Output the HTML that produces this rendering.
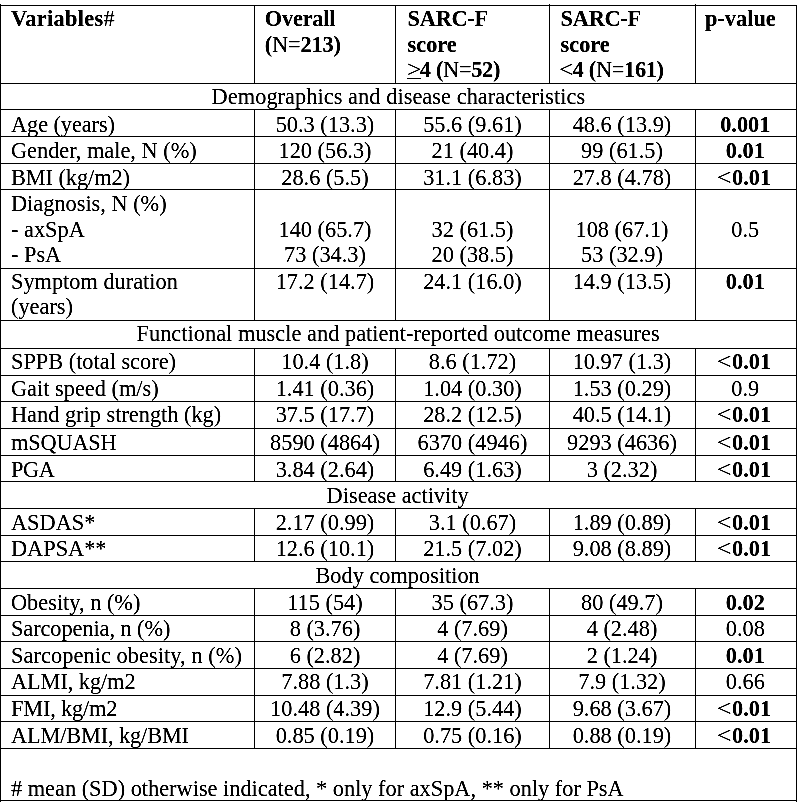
<!DOCTYPE html>
<html><head><meta charset="utf-8"><title>Table</title>
<style>
html,body{margin:0;padding:0;background:#fff;}
body{width:800px;height:806px;position:relative;overflow:hidden;}
#pg{position:absolute;left:0;top:0;width:800px;height:806px;background:#fff;font-family:"Liberation Serif",serif;font-size:22.33px;color:#000;filter:url(#bw);}
.l{position:absolute;background:#000;}
.t{position:absolute;white-space:pre;line-height:normal;}
.t.c{text-align:center;}
.b{font-weight:bold;}
.n{font-weight:normal;}
.lt{display:inline-block;transform:scaleX(1.18);transform-origin:100% 50%;}
.lt2{display:inline-block;transform:scaleX(1.15);transform-origin:0 50%;}
.u{text-decoration:underline;text-decoration-thickness:1px;text-underline-offset:1px;}
</style></head><body><svg width="0" height="0" style="position:absolute"><filter id="bw" x="0" y="0" width="100%" height="100%" color-interpolation-filters="sRGB"><feColorMatrix type="saturate" values="0"/><feComponentTransfer><feFuncR type="linear" slope="2" intercept="-0.7"/><feFuncG type="linear" slope="2" intercept="-0.7"/><feFuncB type="linear" slope="2" intercept="-0.7"/></feComponentTransfer></filter></svg>
<div id="pg">
<div class="l" style="left:0px;top:5px;width:797px;height:1px"></div>
<div class="l" style="left:0px;top:83px;width:797px;height:1px"></div>
<div class="l" style="left:0px;top:109px;width:797px;height:1px"></div>
<div class="l" style="left:0px;top:136px;width:797px;height:1px"></div>
<div class="l" style="left:0px;top:163px;width:797px;height:1px"></div>
<div class="l" style="left:0px;top:189px;width:797px;height:1px"></div>
<div class="l" style="left:0px;top:268px;width:797px;height:1px"></div>
<div class="l" style="left:0px;top:320px;width:797px;height:1px"></div>
<div class="l" style="left:0px;top:348px;width:797px;height:1px"></div>
<div class="l" style="left:0px;top:375px;width:797px;height:1px"></div>
<div class="l" style="left:0px;top:401px;width:797px;height:1px"></div>
<div class="l" style="left:0px;top:428px;width:797px;height:1px"></div>
<div class="l" style="left:0px;top:455px;width:797px;height:1px"></div>
<div class="l" style="left:0px;top:481px;width:797px;height:1px"></div>
<div class="l" style="left:0px;top:508px;width:797px;height:1px"></div>
<div class="l" style="left:0px;top:535px;width:797px;height:1px"></div>
<div class="l" style="left:0px;top:561px;width:797px;height:1px"></div>
<div class="l" style="left:0px;top:588px;width:797px;height:1px"></div>
<div class="l" style="left:0px;top:615px;width:797px;height:1px"></div>
<div class="l" style="left:0px;top:641px;width:797px;height:1px"></div>
<div class="l" style="left:0px;top:668px;width:797px;height:1px"></div>
<div class="l" style="left:0px;top:695px;width:797px;height:1px"></div>
<div class="l" style="left:0px;top:721px;width:797px;height:1px"></div>
<div class="l" style="left:0px;top:748px;width:797px;height:1px"></div>
<div class="l" style="left:0px;top:800px;width:797px;height:1px"></div>
<div class="l" style="left:0px;top:4px;width:1px;height:798px"></div>
<div class="l" style="left:796px;top:5px;width:1px;height:797px"></div>
<div class="l" style="left:254px;top:5px;width:1px;height:78px"></div>
<div class="l" style="left:395px;top:5px;width:1px;height:78px"></div>
<div class="l" style="left:549px;top:4px;width:1px;height:79px"></div>
<div class="l" style="left:695px;top:4px;width:1px;height:79px"></div>
<div class="l" style="left:254px;top:109px;width:1px;height:27px"></div>
<div class="l" style="left:395px;top:109px;width:1px;height:27px"></div>
<div class="l" style="left:549px;top:109px;width:1px;height:27px"></div>
<div class="l" style="left:695px;top:109px;width:1px;height:27px"></div>
<div class="l" style="left:254px;top:136px;width:1px;height:27px"></div>
<div class="l" style="left:395px;top:136px;width:1px;height:27px"></div>
<div class="l" style="left:549px;top:136px;width:1px;height:27px"></div>
<div class="l" style="left:695px;top:136px;width:1px;height:27px"></div>
<div class="l" style="left:254px;top:163px;width:1px;height:26px"></div>
<div class="l" style="left:395px;top:163px;width:1px;height:26px"></div>
<div class="l" style="left:549px;top:163px;width:1px;height:26px"></div>
<div class="l" style="left:695px;top:163px;width:1px;height:26px"></div>
<div class="l" style="left:254px;top:189px;width:1px;height:79px"></div>
<div class="l" style="left:395px;top:189px;width:1px;height:79px"></div>
<div class="l" style="left:549px;top:189px;width:1px;height:79px"></div>
<div class="l" style="left:695px;top:189px;width:1px;height:79px"></div>
<div class="l" style="left:254px;top:268px;width:1px;height:52px"></div>
<div class="l" style="left:395px;top:268px;width:1px;height:52px"></div>
<div class="l" style="left:549px;top:268px;width:1px;height:52px"></div>
<div class="l" style="left:695px;top:268px;width:1px;height:52px"></div>
<div class="l" style="left:254px;top:348px;width:1px;height:27px"></div>
<div class="l" style="left:395px;top:348px;width:1px;height:27px"></div>
<div class="l" style="left:549px;top:348px;width:1px;height:27px"></div>
<div class="l" style="left:695px;top:348px;width:1px;height:27px"></div>
<div class="l" style="left:254px;top:375px;width:1px;height:26px"></div>
<div class="l" style="left:395px;top:375px;width:1px;height:26px"></div>
<div class="l" style="left:549px;top:375px;width:1px;height:26px"></div>
<div class="l" style="left:695px;top:375px;width:1px;height:26px"></div>
<div class="l" style="left:254px;top:401px;width:1px;height:27px"></div>
<div class="l" style="left:395px;top:401px;width:1px;height:27px"></div>
<div class="l" style="left:549px;top:401px;width:1px;height:27px"></div>
<div class="l" style="left:695px;top:401px;width:1px;height:27px"></div>
<div class="l" style="left:254px;top:428px;width:1px;height:27px"></div>
<div class="l" style="left:395px;top:428px;width:1px;height:27px"></div>
<div class="l" style="left:549px;top:428px;width:1px;height:27px"></div>
<div class="l" style="left:695px;top:428px;width:1px;height:27px"></div>
<div class="l" style="left:254px;top:455px;width:1px;height:26px"></div>
<div class="l" style="left:395px;top:455px;width:1px;height:26px"></div>
<div class="l" style="left:549px;top:455px;width:1px;height:26px"></div>
<div class="l" style="left:695px;top:455px;width:1px;height:26px"></div>
<div class="l" style="left:254px;top:508px;width:1px;height:27px"></div>
<div class="l" style="left:395px;top:508px;width:1px;height:27px"></div>
<div class="l" style="left:549px;top:508px;width:1px;height:27px"></div>
<div class="l" style="left:695px;top:508px;width:1px;height:27px"></div>
<div class="l" style="left:254px;top:535px;width:1px;height:26px"></div>
<div class="l" style="left:395px;top:535px;width:1px;height:26px"></div>
<div class="l" style="left:549px;top:535px;width:1px;height:26px"></div>
<div class="l" style="left:695px;top:535px;width:1px;height:26px"></div>
<div class="l" style="left:254px;top:588px;width:1px;height:27px"></div>
<div class="l" style="left:395px;top:588px;width:1px;height:27px"></div>
<div class="l" style="left:549px;top:588px;width:1px;height:27px"></div>
<div class="l" style="left:695px;top:588px;width:1px;height:27px"></div>
<div class="l" style="left:254px;top:615px;width:1px;height:26px"></div>
<div class="l" style="left:395px;top:615px;width:1px;height:26px"></div>
<div class="l" style="left:549px;top:615px;width:1px;height:26px"></div>
<div class="l" style="left:695px;top:615px;width:1px;height:26px"></div>
<div class="l" style="left:254px;top:641px;width:1px;height:27px"></div>
<div class="l" style="left:395px;top:641px;width:1px;height:27px"></div>
<div class="l" style="left:549px;top:641px;width:1px;height:27px"></div>
<div class="l" style="left:695px;top:641px;width:1px;height:27px"></div>
<div class="l" style="left:254px;top:668px;width:1px;height:27px"></div>
<div class="l" style="left:395px;top:668px;width:1px;height:27px"></div>
<div class="l" style="left:549px;top:668px;width:1px;height:27px"></div>
<div class="l" style="left:695px;top:668px;width:1px;height:27px"></div>
<div class="l" style="left:254px;top:695px;width:1px;height:26px"></div>
<div class="l" style="left:395px;top:695px;width:1px;height:26px"></div>
<div class="l" style="left:549px;top:695px;width:1px;height:26px"></div>
<div class="l" style="left:695px;top:695px;width:1px;height:26px"></div>
<div class="l" style="left:254px;top:721px;width:1px;height:27px"></div>
<div class="l" style="left:395px;top:721px;width:1px;height:27px"></div>
<div class="l" style="left:549px;top:721px;width:1px;height:27px"></div>
<div class="l" style="left:695px;top:721px;width:1px;height:27px"></div>
<div class="t b" style="left:11px;top:6px"><span style="letter-spacing:0.3px">Variables</span><span class="n">#</span></div>
<div class="t b" style="left:264.8px;top:6px"><span style="letter-spacing:-0.2px">Overall</span></div>
<div class="t b" style="left:264.8px;top:32px"><span style="letter-spacing:-0.15px">(<span class="n">N=</span>213)</span></div>
<div class="t b" style="left:407.6px;top:6px"><span style="letter-spacing:-0.25px">SARC-F</span></div>
<div class="t b" style="left:407.6px;top:32px">score</div>
<div class="t b" style="left:406.5px;top:57px"><span style="letter-spacing:-0.3px"><span class="n u lt2" style="margin-right:1px">&gt;</span>4 (<span class="n">N=</span>52)</span></div>
<div class="t b" style="left:560.6px;top:6px"><span style="letter-spacing:-0.25px">SARC-F</span></div>
<div class="t b" style="left:560.6px;top:32px">score</div>
<div class="t b" style="left:559.3px;top:57px"><span style="letter-spacing:-0.3px"><span class="n lt2" style="margin-right:1px">&lt;</span>4 (<span class="n">N=</span>161)</span></div>
<div class="t b" style="left:705px;top:6px">p-value</div>
<div class="t " style="left:211.6px;top:84px"><span style="letter-spacing:0.056px">Demographics and disease characteristics</span></div>
<div class="t " style="left:11px;top:112px"><span style="letter-spacing:-0.08px">Age (years)</span></div>
<div class="t c " style="left:-75px;width:800px;top:112px">50.3 (13.3)</div>
<div class="t c " style="left:72.5px;width:800px;top:112px">55.6 (9.61)</div>
<div class="t c " style="left:222px;width:800px;top:112px">48.6 (13.9)</div>
<div class="t c " style="left:345.29999999999995px;width:800px;top:112px"><b>0.001</b></div>
<div class="t " style="left:11px;top:138px">Gender, male, N (%)</div>
<div class="t c " style="left:-75px;width:800px;top:138px">120 (56.3)</div>
<div class="t c " style="left:72.5px;width:800px;top:138px">21 (40.4)</div>
<div class="t c " style="left:222px;width:800px;top:138px">99 (61.5)</div>
<div class="t c " style="left:345.29999999999995px;width:800px;top:138px"><b>0.01</b></div>
<div class="t " style="left:11px;top:165px"><span style="letter-spacing:-0.07px">BMI (kg/m2)</span></div>
<div class="t c " style="left:-75px;width:800px;top:165px">28.6 (5.5)</div>
<div class="t c " style="left:72.5px;width:800px;top:165px">31.1 (6.83)</div>
<div class="t c " style="left:222px;width:800px;top:165px">27.8 (4.78)</div>
<div class="t c " style="left:345.29999999999995px;width:800px;top:165px"><span class="lt">&lt;</span><b>0.01</b></div>
<div class="t " style="left:11px;top:191px">Diagnosis, N (%)</div>
<div class="t " style="left:11px;top:217px">- axSpA</div>
<div class="t " style="left:11px;top:242px">- PsA</div>
<div class="t c " style="left:-75px;width:800px;top:217px">140 (65.7)</div>
<div class="t c " style="left:-75px;width:800px;top:242px">73 (34.3)</div>
<div class="t c " style="left:72.5px;width:800px;top:217px">32 (61.5)</div>
<div class="t c " style="left:72.5px;width:800px;top:242px">20 (38.5)</div>
<div class="t c " style="left:222px;width:800px;top:217px">108 (67.1)</div>
<div class="t c " style="left:222px;width:800px;top:242px">53 (32.9)</div>
<div class="t c " style="left:345.29999999999995px;width:800px;top:217px">0.5</div>
<div class="t " style="left:11px;top:269px">Symptom duration</div>
<div class="t " style="left:11px;top:294px">(years)</div>
<div class="t c " style="left:-75px;width:800px;top:269px">17.2 (14.7)</div>
<div class="t c " style="left:72.5px;width:800px;top:269px">24.1 (16.0)</div>
<div class="t c " style="left:222px;width:800px;top:269px">14.9 (13.5)</div>
<div class="t c " style="left:345.29999999999995px;width:800px;top:269px"><b>0.01</b></div>
<div class="t " style="left:136.5px;top:321px"><span style="letter-spacing:0.033px">Functional muscle and patient-reported outcome measures</span></div>
<div class="t " style="left:11px;top:349px">SPPB (total score)</div>
<div class="t c " style="left:-75px;width:800px;top:349px">10.4 (1.8)</div>
<div class="t c " style="left:72.5px;width:800px;top:349px">8.6 (1.72)</div>
<div class="t c " style="left:222px;width:800px;top:349px">10.97 (1.3)</div>
<div class="t c " style="left:345.29999999999995px;width:800px;top:349px"><span class="lt">&lt;</span><b>0.01</b></div>
<div class="t " style="left:11px;top:376px">Gait speed (m/s)</div>
<div class="t c " style="left:-75px;width:800px;top:376px">1.41 (0.36)</div>
<div class="t c " style="left:72.5px;width:800px;top:376px">1.04 (0.30)</div>
<div class="t c " style="left:222px;width:800px;top:376px">1.53 (0.29)</div>
<div class="t c " style="left:345.29999999999995px;width:800px;top:376px">0.9</div>
<div class="t " style="left:11px;top:402px">Hand grip strength (kg)</div>
<div class="t c " style="left:-75px;width:800px;top:402px">37.5 (17.7)</div>
<div class="t c " style="left:72.5px;width:800px;top:402px">28.2 (12.5)</div>
<div class="t c " style="left:222px;width:800px;top:402px">40.5 (14.1)</div>
<div class="t c " style="left:345.29999999999995px;width:800px;top:402px"><span class="lt">&lt;</span><b>0.01</b></div>
<div class="t " style="left:11px;top:430px"><span style="letter-spacing:-0.16px">mSQUASH</span></div>
<div class="t c " style="left:-75px;width:800px;top:430px">8590 (4864)</div>
<div class="t c " style="left:72.5px;width:800px;top:430px">6370 (4946)</div>
<div class="t c " style="left:222px;width:800px;top:430px">9293 (4636)</div>
<div class="t c " style="left:345.29999999999995px;width:800px;top:430px"><span class="lt">&lt;</span><b>0.01</b></div>
<div class="t " style="left:11px;top:457px"><span style="letter-spacing:-0.4px">PGA</span></div>
<div class="t c " style="left:-75px;width:800px;top:457px">3.84 (2.64)</div>
<div class="t c " style="left:72.5px;width:800px;top:457px">6.49 (1.63)</div>
<div class="t c " style="left:222px;width:800px;top:457px">3 (2.32)</div>
<div class="t c " style="left:345.29999999999995px;width:800px;top:457px"><span class="lt">&lt;</span><b>0.01</b></div>
<div class="t c " style="left:-2.3999999999999773px;width:800px;top:483px">Disease activity</div>
<div class="t " style="left:11px;top:510px">ASDAS*</div>
<div class="t c " style="left:-75px;width:800px;top:510px">2.17 (0.99)</div>
<div class="t c " style="left:72.5px;width:800px;top:510px">3.1 (0.67)</div>
<div class="t c " style="left:222px;width:800px;top:510px">1.89 (0.89)</div>
<div class="t c " style="left:345.29999999999995px;width:800px;top:510px"><span class="lt">&lt;</span><b>0.01</b></div>
<div class="t " style="left:11px;top:536px">DAPSA**</div>
<div class="t c " style="left:-75px;width:800px;top:536px">12.6 (10.1)</div>
<div class="t c " style="left:72.5px;width:800px;top:536px">21.5 (7.02)</div>
<div class="t c " style="left:222px;width:800px;top:536px">9.08 (8.89)</div>
<div class="t c " style="left:345.29999999999995px;width:800px;top:536px"><span class="lt">&lt;</span><b>0.01</b></div>
<div class="t c " style="left:-2.3999999999999773px;width:800px;top:563px">Body composition</div>
<div class="t " style="left:11px;top:590px">Obesity, n (%)</div>
<div class="t c " style="left:-75px;width:800px;top:590px">115 (54)</div>
<div class="t c " style="left:72.5px;width:800px;top:590px">35 (67.3)</div>
<div class="t c " style="left:222px;width:800px;top:590px">80 (49.7)</div>
<div class="t c " style="left:345.29999999999995px;width:800px;top:590px"><b>0.02</b></div>
<div class="t " style="left:11px;top:616px"><span style="letter-spacing:-0.075px">Sarcopenia, n (%)</span></div>
<div class="t c " style="left:-75px;width:800px;top:616px">8 (3.76)</div>
<div class="t c " style="left:72.5px;width:800px;top:616px">4 (7.69)</div>
<div class="t c " style="left:222px;width:800px;top:616px">4 (2.48)</div>
<div class="t c " style="left:345.29999999999995px;width:800px;top:616px">0.08</div>
<div class="t " style="left:11px;top:643px"><span style="letter-spacing:0.07px">Sarcopenic obesity, n (%)</span></div>
<div class="t c " style="left:-75px;width:800px;top:643px">6 (2.82)</div>
<div class="t c " style="left:72.5px;width:800px;top:643px">4 (7.69)</div>
<div class="t c " style="left:222px;width:800px;top:643px">2 (1.24)</div>
<div class="t c " style="left:345.29999999999995px;width:800px;top:643px"><b>0.01</b></div>
<div class="t " style="left:11px;top:669px"><span style="letter-spacing:-0.07px">ALMI, kg/m2</span></div>
<div class="t c " style="left:-75px;width:800px;top:669px">7.88 (1.3)</div>
<div class="t c " style="left:72.5px;width:800px;top:669px">7.81 (1.21)</div>
<div class="t c " style="left:222px;width:800px;top:669px">7.9 (1.32)</div>
<div class="t c " style="left:345.29999999999995px;width:800px;top:669px">0.66</div>
<div class="t " style="left:11px;top:696px"><span style="letter-spacing:-0.18px">FMI, kg/m2</span></div>
<div class="t c " style="left:-75px;width:800px;top:696px">10.48 (4.39)</div>
<div class="t c " style="left:72.5px;width:800px;top:696px">12.9 (5.44)</div>
<div class="t c " style="left:222px;width:800px;top:696px">9.68 (3.67)</div>
<div class="t c " style="left:345.29999999999995px;width:800px;top:696px"><span class="lt">&lt;</span><b>0.01</b></div>
<div class="t " style="left:11px;top:723px"><span style="letter-spacing:-0.13px">ALM/BMI, kg/BMI</span></div>
<div class="t c " style="left:-75px;width:800px;top:723px">0.85 (0.19)</div>
<div class="t c " style="left:72.5px;width:800px;top:723px">0.75 (0.16)</div>
<div class="t c " style="left:222px;width:800px;top:723px">0.88 (0.19)</div>
<div class="t c " style="left:345.29999999999995px;width:800px;top:723px"><span class="lt">&lt;</span><b>0.01</b></div>
<div class="t " style="left:11px;top:776px"># mean (SD) otherwise indicated, * only for axSpA, ** only for PsA</div>
</div>
</body></html>
